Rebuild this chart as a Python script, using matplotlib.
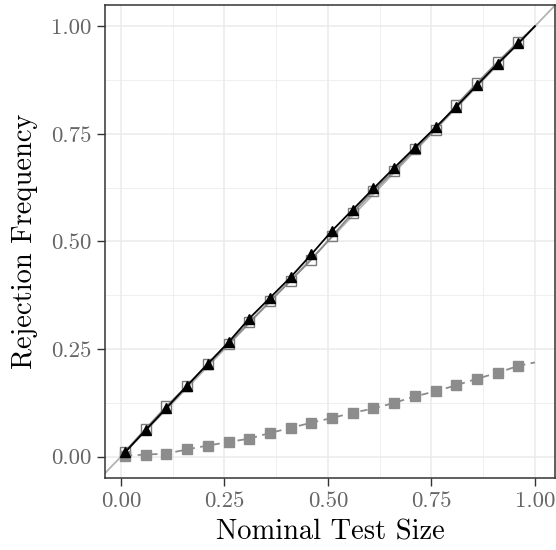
import numpy as np
import matplotlib.pyplot as plt

plt.rcParams['font.family'] = 'cmr10'
plt.rcParams['mathtext.fontset'] = 'cm'
plt.rcParams['axes.formatter.use_mathtext'] = True

# nominal sizes where markers are drawn, plus the line end at 1.0
x = [0.01, 0.06, 0.11, 0.16, 0.21, 0.26, 0.31, 0.36, 0.41, 0.46,
     0.51, 0.56, 0.61, 0.66, 0.71, 0.76, 0.81, 0.86, 0.91, 0.96, 1.00]

rej_tri = [0.010, 0.062, 0.113, 0.165, 0.216, 0.266, 0.321, 0.369, 0.417, 0.470,
           0.525, 0.574, 0.623, 0.671, 0.718, 0.765, 0.813, 0.863, 0.913, 0.960, 1.000]
rej_open = [0.012, 0.065, 0.117, 0.165, 0.215, 0.262, 0.312, 0.361, 0.409, 0.458,
            0.512, 0.567, 0.617, 0.664, 0.714, 0.760, 0.817, 0.868, 0.917, 0.964, 1.000]
rej_grey = [0.002, 0.005, 0.007, 0.017, 0.026, 0.034, 0.042, 0.055, 0.067, 0.079,
            0.090, 0.102, 0.112, 0.125, 0.140, 0.152, 0.166, 0.181, 0.195, 0.211, 0.219]

ticks = [0.0, 0.25, 0.5, 0.75, 1.0]
tick_labels = ['0.00', '0.25', '0.50', '0.75', '1.00']

fig = plt.figure(figsize=(5.56, 5.50), dpi=100)
ax = fig.add_axes([0.188, 0.1305, 0.811, 0.861])

# 45 degree reference line
ax.axline((0, 0), (1, 1), color='#b3b3b3', lw=1.3, zorder=2)

n = len(x) - 1
ax.plot(x, rej_open, color='#8a8a8a', lw=1.3, zorder=3)
ax.plot(x[:n], rej_open[:n], 's', ms=7, mfc='none', mec='#7a7a7a', mew=1.0, zorder=3)
ax.plot(x, rej_tri, color='black', lw=1.3, zorder=4)
ax.plot(x[:n], rej_tri[:n], '^', ms=7, color='black', zorder=4)
ax.plot(x, rej_grey, color='#8c8c8c', lw=1.3, ls=(0, (4, 3)), zorder=3)
ax.plot(x[:n], rej_grey[:n], 's', ms=7, color='#8c8c8c', zorder=3)

ax.set_xlim(-0.0395, 1.0495)
ax.set_ylim(-0.05, 1.05)
ax.set_xticks(ticks)
ax.set_xticklabels(tick_labels)
ax.set_yticks(ticks)
ax.set_yticklabels(tick_labels)
ax.set_xticks([0.125, 0.375, 0.625, 0.875], minor=True)
ax.set_yticks([0.125, 0.375, 0.625, 0.875], minor=True)

ax.grid(which='major', color='#ebebeb', lw=1.1, zorder=0)
ax.grid(which='minor', color='#ebebeb', lw=0.55, zorder=0)
ax.set_axisbelow(True)
ax.tick_params(which='minor', length=0)
ax.tick_params(which='major', length=5.5, width=1.0, color='#333333',
               labelcolor='#666666', labelsize=16.5, pad=4)
for s in ax.spines.values():
    s.set_color('#333333')
    s.set_linewidth(1.1)

ax.set_xlabel('Nominal Test Size', fontsize=20.5, labelpad=6)
ax.set_ylabel('Rejection Frequency', fontsize=20.5, labelpad=9)

fig.savefig('out.png', dpi=100)
